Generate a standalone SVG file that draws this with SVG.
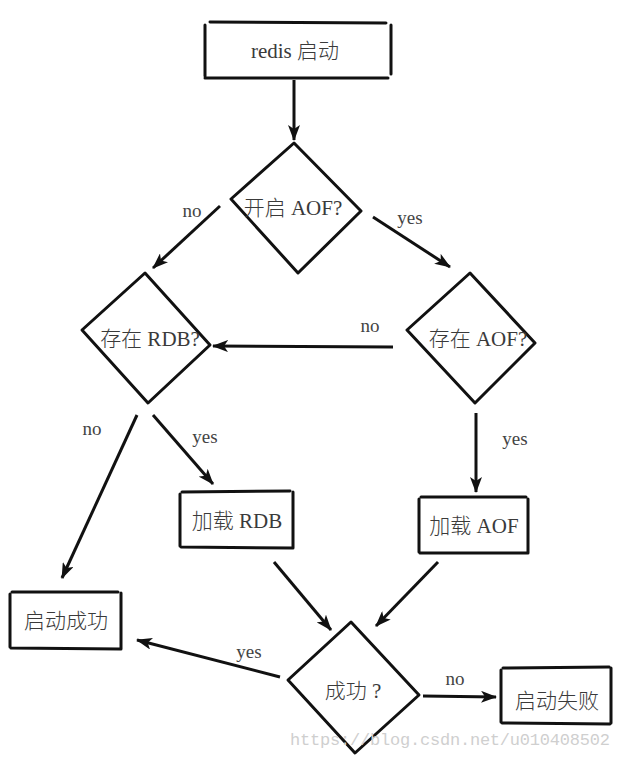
<svg xmlns="http://www.w3.org/2000/svg" width="620" height="759" viewBox="0 0 620 759">
<defs>
<marker id="ah" viewBox="0 0 16 12" refX="15" refY="6" markerWidth="16" markerHeight="12" markerUnits="userSpaceOnUse" orient="auto">
<path d="M0,0 L16,6 L0,12 L4,6 z" fill="#111"/>
</marker>
<style>
.s{fill:none;stroke:#111;stroke-width:3;stroke-linecap:round;stroke-linejoin:round}
.c{fill:none;stroke:#111;stroke-width:3;marker-end:url(#ah)}
.t{font-family:"Liberation Serif","Noto Sans CJK SC",serif;font-size:21px;font-weight:300;fill:#3a3a3a;text-anchor:middle}
.l{font-family:"Liberation Serif",serif;font-size:19px;fill:#444;text-anchor:middle}
</style>
</defs>
<rect width="620" height="759" fill="#fff"/>
<g id="start">
<path class="s" d="M210,22 L386,23 M205,25 L205,76 M391,25 L391,74 M205,78 L388,78"/>
<text class="t" x="295" y="58">redis 启动</text>
</g>
<g id="q_aof_on">
<polygon class="s" points="294,143 361,211 298,273 231,199"/>
<text class="t" x="293" y="215">开启 AOF?</text>
</g>
<g id="q_rdb">
<polygon class="s" points="145,273 210,345 148,403 82,330"/>
<text class="t" x="150" y="346">存在 RDB?</text>
</g>
<g id="q_aof">
<polygon class="s" points="470,273 535,343 475,403 407,330"/>
<text class="t" x="478" y="346">存在 AOF?</text>
</g>
<g id="load_rdb">
<path class="s" d="M182,492 L290,491 M180,494 L180,546 M293,492 L293,548 M181,547 L292,548"/>
<text class="t" x="237" y="528">加载 RDB</text>
</g>
<g id="load_aof">
<path class="s" d="M421,497 L526,497 M419,499 L419,552 M528,499 L528,553 M420,553 L527,553"/>
<text class="t" x="474" y="533">加载 AOF</text>
</g>
<g id="ok">
<path class="s" d="M12,592 L118,592 M10,594 L10,647 M121,593 L121,649 M11,648 L120,649"/>
<text class="t" x="66" y="628">启动成功</text>
</g>
<g id="q_ok">
<polygon class="s" points="351,622 419,695 355,753 288,680"/>
<text class="t" x="353" y="698">成功 ?</text>
</g>
<g id="fail">
<path class="s" d="M503,668 L609,667 M501,670 L501,722 M611,668 L611,723 M502,723 L610,724"/>
<text class="t" x="557" y="708">启动失败</text>
</g>
<g id="connectors">
<line class="c" x1="294" y1="80" x2="294" y2="140"/>
<line class="c" x1="220" y1="206" x2="153" y2="268"/>
<line class="c" x1="373" y1="217" x2="450" y2="267"/>
<line class="c" x1="393" y1="347" x2="213" y2="346"/>
<line class="c" x1="137" y1="415" x2="62" y2="578"/>
<line class="c" x1="153" y1="415" x2="213" y2="484"/>
<line class="c" x1="476" y1="413" x2="476" y2="492"/>
<line class="c" x1="274" y1="562" x2="331" y2="630"/>
<line class="c" x1="438" y1="562" x2="376" y2="626"/>
<line class="c" x1="280" y1="677" x2="137" y2="640"/>
<line class="c" x1="423" y1="696" x2="496" y2="697"/>
<text class="l" x="192" y="217">no</text>
<text class="l" x="410" y="224">yes</text>
<text class="l" x="370" y="332">no</text>
<text class="l" x="92" y="435">no</text>
<text class="l" x="205" y="443">yes</text>
<text class="l" x="515" y="445">yes</text>
<text class="l" x="249" y="658">yes</text>
<text class="l" x="455" y="685">no</text>
</g>
<text x="290" y="745" font-family="Liberation Mono,monospace" font-size="17" fill="#cfcfcf" textLength="320">https://blog.csdn.net/u010408502</text>
</svg>
